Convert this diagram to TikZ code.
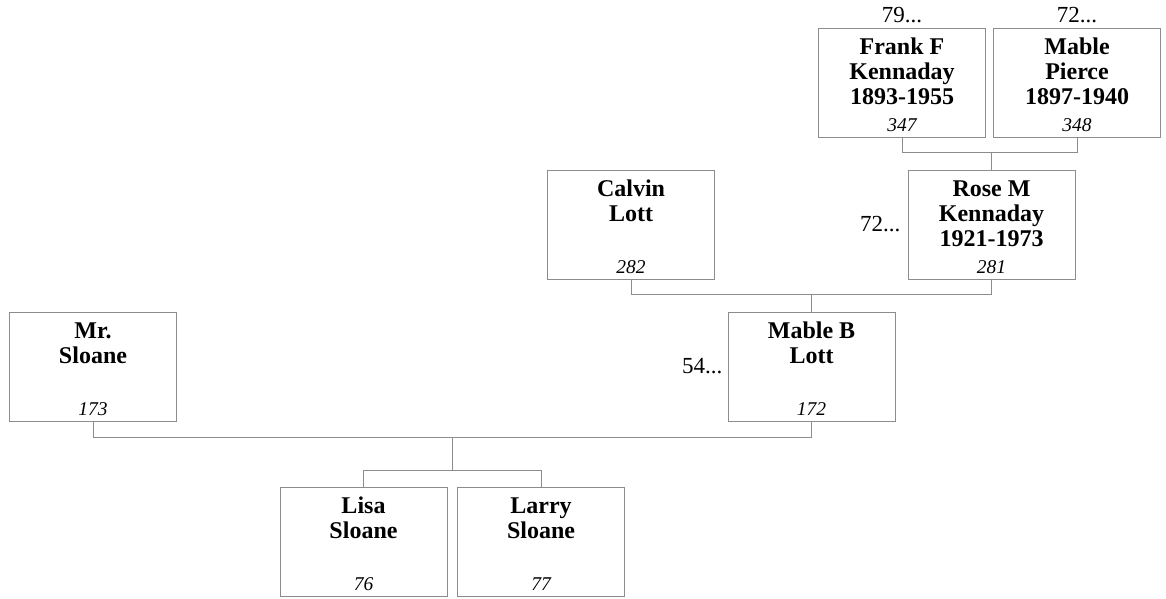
\documentclass[tikz,border=0pt]{standalone}
\usepackage{fontspec}
\setmainfont{Liberation Serif}
\usetikzlibrary{positioning,calc}

\begin{document}
\begin{tikzpicture}[x=1pt,y=-1pt,
  person/.style={draw=black!45,line width=0.8pt,minimum width=167pt,
                 minimum height=109pt,inner sep=0pt},
  pname/.style={font=\fontsize{24}{25}\selectfont\bfseries,align=center,inner sep=0pt},
  pid/.style={font=\fontsize{19.5}{21}\selectfont\itshape,inner sep=0pt},
  more/.style={font=\fontsize{23}{25}\selectfont,inner sep=0pt},
  link/.style={draw=black!45,line width=0.8pt}]
\useasboundingbox (0,0) rectangle (1166,598);

% Boxes
\node[person] (frank)    at (902,82.5)    {};
\node[person] (pierce)   at (1077,82.5)   {};
\node[person] (rose)     at (991.5,224.5) {};
\node[person] (calvin)   at (631,224.5)   {};
\node[person] (mableb)   at (811.5,366.5) {};
\node[person] (mrsloane) at (93,366.5)    {};
\node[person] (lisa)     at (363.5,541.5) {};
\node[person] (larry)    at (541,541.5)   {};

% Names
\node[pname,below=10.5pt of frank.north]    (frankname)  {Frank F\\Kennaday\\1893-1955};
\node[pname,below=10.5pt of pierce.north]   (piercename) {Mable\\Pierce\\1897-1940};
\node[pname,below=10.5pt of rose.north]     (rosename)   {Rose M\\Kennaday\\1921-1973};
\node[pname,below=10.5pt of calvin.north]   (calvinname) {Calvin\\Lott};
\node[pname,below=10.5pt of mableb.north]   (mablebname) {Mable B\\Lott};
\node[pname,below=10.5pt of mrsloane.north] (sloanename) {Mr.\\Sloane};
\node[pname,below=10.5pt of lisa.north]     (lisaname)   {Lisa\\Sloane};
\node[pname,below=10.5pt of larry.north]    (larryname)  {Larry\\Sloane};

% Ids
\node[pid,above=5.5pt of frank.south]    (frankid)  {347};
\node[pid,above=5.5pt of pierce.south]   (pierceid) {348};
\node[pid,above=5.5pt of rose.south]     (roseid)   {281};
\node[pid,above=5.5pt of calvin.south]   (calvinid) {282};
\node[pid,above=5.5pt of mableb.south]   (mablebid) {172};
\node[pid,above=5.5pt of mrsloane.south] (sloaneid) {173};
\node[pid,above=5.5pt of lisa.south]     (lisaid)   {76};
\node[pid,above=5.5pt of larry.south]    (larryid)  {77};

% More ancestors
\node[more,above=5pt of frank]  (frankmore)  {79...};
\node[more,above=5pt of pierce] (piercemore) {72...};
\node[more,left=7pt of rose]    (rosemore)   {72...};
\node[more,left=5pt of mableb]  (mablebmore) {54...};

% Family links
\coordinate (fp) at ($(rose.north)+(0,-17)$);
\draw[link] (frank.south) |- (fp) -| (pierce.south);
\draw[link] (fp) -- (rose.north);

\coordinate (cr) at ($(mableb.north)+(0,-17)$);
\draw[link] (calvin.south) |- (cr) -| (rose.south);
\draw[link] (cr) -- (mableb.north);

\coordinate (sm) at (452,437);
\coordinate (kids) at (452,470);
\draw[link] (mrsloane.south) |- (sm) -| (mableb.south);
\draw[link] (sm) -- (kids);
\draw[link] (lisa.north) |- (kids) -| (larry.north);
\end{tikzpicture}
\end{document}
